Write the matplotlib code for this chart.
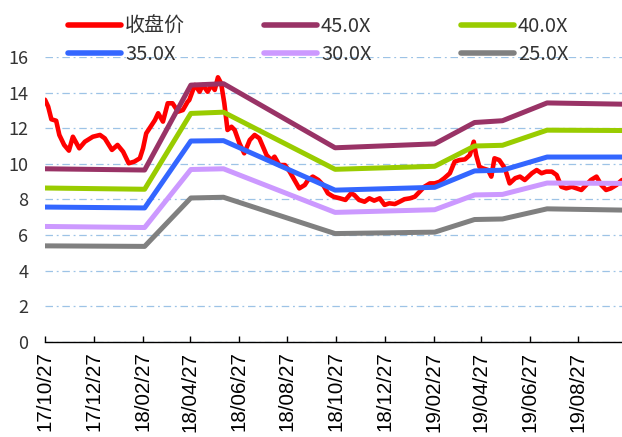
import matplotlib
matplotlib.use("Agg")
import matplotlib.pyplot as plt
import matplotlib.dates as mdates
import numpy as np
import pandas as pd

# closing price
price_dates = [
    "2017-10-27", "2017-10-31", "2017-11-04", "2017-11-10", "2017-11-14", "2017-11-20",
    "2017-11-26", "2017-12-01", "2017-12-09", "2017-12-16", "2017-12-26", "2018-01-04",
    "2018-01-10", "2018-01-19", "2018-01-26", "2018-02-02", "2018-02-09", "2018-02-16",
    "2018-02-23", "2018-02-27", "2018-03-03", "2018-03-14", "2018-03-18", "2018-03-24",
    "2018-03-30", "2018-04-05", "2018-04-12", "2018-04-18", "2018-04-24", "2018-04-26",
    "2018-05-03", "2018-05-09", "2018-05-13", "2018-05-19", "2018-05-24", "2018-05-28",
    "2018-06-01", "2018-06-05", "2018-06-09", "2018-06-13", "2018-06-18", "2018-06-22",
    "2018-06-28", "2018-07-04", "2018-07-11", "2018-07-17", "2018-07-23", "2018-08-01",
    "2018-08-07", "2018-08-11", "2018-08-17", "2018-08-24", "2018-08-30", "2018-09-05",
    "2018-09-11", "2018-09-18", "2018-09-22", "2018-09-28", "2018-10-05", "2018-10-11",
    "2018-10-17", "2018-10-24", "2018-11-01", "2018-11-08", "2018-11-15", "2018-11-19",
    "2018-11-25", "2018-12-02", "2018-12-08", "2018-12-14", "2018-12-21", "2018-12-27",
    "2019-01-02", "2019-01-09", "2019-01-15", "2019-01-21", "2019-01-28", "2019-02-03",
    "2019-02-09", "2019-02-15", "2019-02-22", "2019-02-28", "2019-03-06", "2019-03-12",
    "2019-03-19", "2019-03-25", "2019-03-31", "2019-04-07", "2019-04-13", "2019-04-18",
    "2019-04-21", "2019-04-25", "2019-04-29", "2019-05-06", "2019-05-10", "2019-05-14",
    "2019-05-20", "2019-05-27", "2019-06-02", "2019-06-09", "2019-06-15", "2019-06-21",
    "2019-06-30", "2019-07-06", "2019-07-12", "2019-07-18", "2019-07-25", "2019-07-31",
    "2019-08-06", "2019-08-12", "2019-08-19", "2019-08-25", "2019-08-31", "2019-09-06",
    "2019-09-12", "2019-09-19", "2019-09-25", "2019-10-01", "2019-10-07", "2019-10-14",
    "2019-10-21",
]
price = [
    13.6, 13.21, 12.5, 12.42, 11.62, 11.06,
    10.74, 11.52, 10.87, 11.24, 11.52, 11.62,
    11.43, 10.78, 11.06, 10.68, 10.03, 10.12,
    10.31, 10.87, 11.71, 12.46, 12.84, 12.37,
    13.4, 13.4, 12.93, 13.02, 13.49, 13.58,
    14.43, 14.05, 14.43, 14.05, 14.43, 14.15,
    14.86, 14.52, 13.4, 11.9, 12.08, 11.9,
    11.15, 10.59, 11.34, 11.62, 11.43, 10.49,
    10.21, 10.4, 9.93, 9.93, 9.56, 9.09,
    8.62, 8.81, 9.09, 9.28, 9.09, 8.81,
    8.34, 8.15, 8.06, 7.97, 8.34, 8.25,
    7.97, 7.87, 8.06, 7.93, 8.06, 7.69,
    7.78, 7.74, 7.87, 8.01, 8.06, 8.15,
    8.43, 8.71, 8.9, 8.9, 8.99, 9.19,
    9.47, 10.12, 10.21, 10.25, 10.49, 11.24,
    10.49, 9.84, 9.75, 9.65, 9.28, 10.31,
    10.21, 9.75, 8.9, 9.19, 9.28, 9.09,
    9.47, 9.65, 9.47, 9.56, 9.56, 9.37,
    8.71, 8.62, 8.71, 8.62, 8.53, 8.81,
    9.09, 9.28, 8.81, 8.53, 8.62, 8.81,
    9.09,
]

# PE band lines
band_dates = ["2017-10-27", "2018-03-01", "2018-04-28", "2018-06-08", "2018-10-26",
              "2019-02-28", "2019-04-19", "2019-05-24", "2019-07-19", "2019-10-21"]
pe45 = [9.72, 9.65, 14.42, 14.5, 10.9, 11.12, 12.32, 12.42, 13.42, 13.35]
pe40 = [8.64, 8.57, 12.83, 12.9, 9.69, 9.86, 11.0, 11.04, 11.89, 11.87]
pe35 = [7.57, 7.52, 11.28, 11.3, 8.52, 8.68, 9.6, 9.64, 10.38, 10.38]
pe30 = [6.48, 6.42, 9.68, 9.72, 7.27, 7.42, 8.25, 8.28, 8.92, 8.9]
pe25 = [5.39, 5.36, 8.08, 8.12, 6.08, 6.16, 6.87, 6.9, 7.47, 7.4]

tick_labels = ["17/10/27", "17/12/27", "18/02/27", "18/04/27", "18/06/27", "18/08/27",
               "18/10/27", "18/12/27", "19/02/27", "19/04/27", "19/06/27", "19/08/27"]
tick_dates = pd.to_datetime(["2017-10-27", "2017-12-27", "2018-02-27", "2018-04-27",
                             "2018-06-27", "2018-08-27", "2018-10-27", "2018-12-27",
                             "2019-02-27", "2019-04-27", "2019-06-27", "2019-08-27"])

fig = plt.figure(figsize=(6.22, 4.37), dpi=100)
ax = fig.add_axes([45 / 622, 1 - 341.8 / 437, 1 - 45 / 622, (341.8 - 57) / 437])

pd_price = pd.to_datetime(price_dates)
pd_band = pd.to_datetime(band_dates)

l0, = ax.plot(pd_price, price, color="#FF0000", lw=3.3, zorder=2, solid_capstyle="round")
l45, = ax.plot(pd_band, pe45, color="#993366", lw=3.6, zorder=3)
l40, = ax.plot(pd_band, pe40, color="#99CC00", lw=3.6, zorder=3)
l35, = ax.plot(pd_band, pe35, color="#3366FF", lw=3.6, zorder=3)
l30, = ax.plot(pd_band, pe30, color="#CC99FF", lw=3.6, zorder=3)
l25, = ax.plot(pd_band, pe25, color="#808080", lw=3.6, zorder=3)

ax.set_xlim(pd.Timestamp("2017-10-27"), pd.Timestamp("2019-10-21"))
ax.set_ylim(0, 16)
ax.set_yticks(np.arange(0, 17, 2))
ax.yaxis.grid(True, color="#9DC3E6", lw=0.9, linestyle=(0, (6, 3, 1.5, 3)))
ax.set_axisbelow(True)

for s in ["left", "right", "top"]:
    ax.spines[s].set_visible(False)
ax.spines["bottom"].set_color("black")
ax.spines["bottom"].set_linewidth(1.0)
ax.spines["bottom"].set_zorder(4)

ax.set_xticks(tick_dates)
ax.set_xticklabels(tick_labels, rotation=90, fontsize=14.8, family=["Liberation Sans", "DejaVu Sans"])
ax.tick_params(axis="x", direction="in", length=4.5, width=1, pad=7, color="black")
ax.tick_params(axis="y", length=0, pad=12)
for t in ax.get_yticklabels():
    t.set_family(["Noto Sans CJK SC", "DejaVu Sans"])
    t.set_fontsize(13)
    t.set_color("#333333")

leg_kw = dict(loc="upper left", frameon=False, borderpad=0, borderaxespad=0,
              handlelength=2.65, handletextpad=0.2, labelspacing=0.34,
              prop={"family": ["Noto Sans CJK SC", "DejaVu Sans"], "size": 14.4})
cols = [([l0, l35], ["收盘价", "35.0X"], 68),
        ([l45, l30], ["45.0X", "30.0X"], 264),
        ([l40, l25], ["40.0X", "25.0X"], 461)]
for handles, labels, xpx in cols:
    lg = fig.legend(handles, labels, bbox_to_anchor=(xpx / 622, 1 - 16 / 437), **leg_kw)
    for h in lg.get_lines():
        h.set_linewidth(4)
        h.set_solid_capstyle("round")
    for t in lg.get_texts():
        t.set_color("#333333")

fig.savefig("out.png", dpi=100)
